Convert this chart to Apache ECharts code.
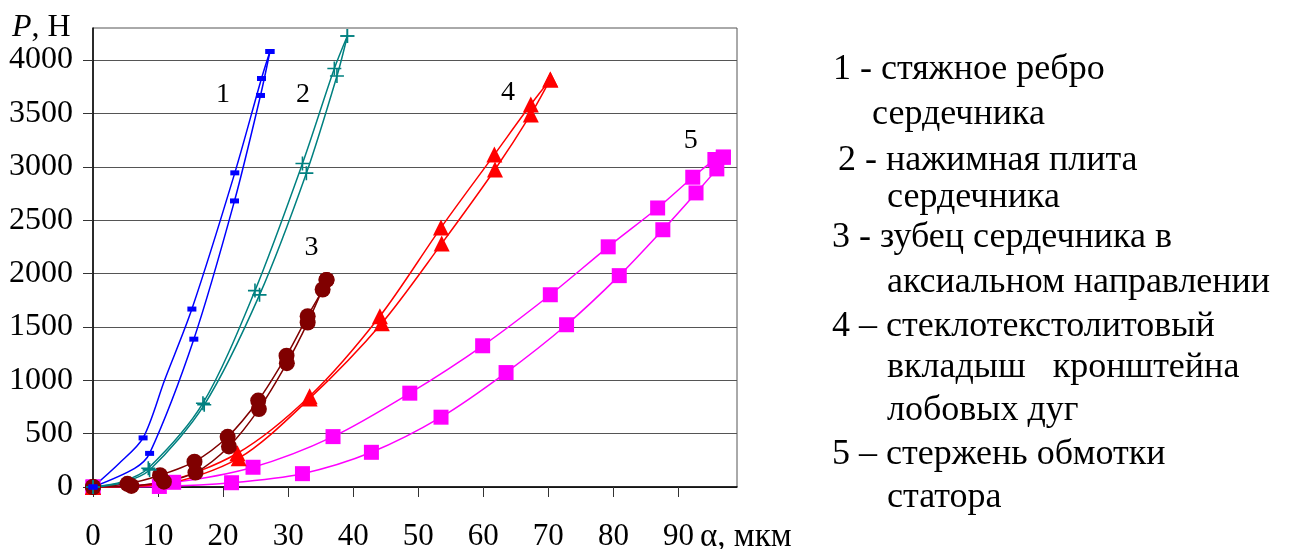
<!DOCTYPE html>
<html>
<head>
<meta charset="utf-8">
<script src="https://cdn.jsdelivr.net/npm/echarts@6/dist/echarts.min.js"></script>
<style>
  html, body { margin: 0; padding: 0; background: #fff; }
  #chart { width: 1290px; height: 549px; }
</style>
</head>
<body>
<div id="chart"></div>
<script>
// Load–deflection curves P(α) for five stator parts.
// Each point: [α, μm; P, N; 1 = marker drawn, 0 = line shape only]
const xTicks = [0, 10, 20, 30, 40, 50, 60, 70, 80, 90];
const yTicks = [0, 500, 1000, 1500, 2000, 2500, 3000, 3500, 4000];

// 1 – core clamping rib
const rib1Load = [[0,0,1],[4,220,0],[7.7,460,1],[11,1000,0],[15.2,1667,1],[21.8,2943,1],[25.9,3827,1],[27.2,4080,1]];
const rib1Unload = [[0,0,1],[6.4,175,0],[8.7,315,1],[15.5,1385,1],[21.75,2680,1],[25.75,3668,1],[27.2,4080,1]];

// 2 – core pressure plate
const plate2Load = [[0,0,1],[4.5,50,0],[8.5,175,1],[16.9,785,1],[24.9,1840,1],[32.2,3030,1],[37.1,3920,1],[39.1,4225,1]];
const plate2Unload = [[0,0,1],[4.5,40,0],[8.7,160,1],[17.1,770,1],[25.6,1800,1],[32.8,2940,1],[37.5,3850,1],[39.1,4225,1]];

// 3 – core tooth, axial direction
const tooth3Load = [[0,0,1],[5.3,30,1],[10.3,110,1],[15.6,237,1],[20.7,470,1],[25.4,810,1],[29.75,1230,1],[33,1600,1],[35.3,1850,1],[35.9,1940,1]];
const tooth3Unload = [[0,0,1],[5.9,10,1],[10.9,50,1],[15.75,135,1],[20.9,380,1],[25.5,730,1],[29.8,1160,1],[33,1540,1],[35.9,1940,1]];

// 4 – glass-textolite bracket insert
const insert4Load = [[0,0,1],[10.5,40,0],[22.2,316,1],[33.3,850,1],[44.1,1600,1],[53.5,2430,1],[61.7,3114,1],[67.3,3583,1],[70.3,3818,1]];
const insert4Unload = [[0,0,1],[10.5,25,0],[22.4,270,1],[33.3,830,1],[44.4,1535,1],[53.6,2280,1],[61.8,2974,1],[67.3,3490,1],[70.3,3818,1]];

// 5 – stator winding bar
const bar5Load = [[0,0,1],[12.4,44,1],[24.6,185,1],[36.9,472,1],[48.7,879,1],[59.9,1323,1],[70.3,1801,1],[79.2,2250,1],[86.8,2614,1],[92.2,2902,1],[95.6,3068,1],[96.9,3090,1]];
const bar5Unload = [[0,0,1],[10.2,5,1],[21.3,40,1],[32.2,125,1],[42.8,325,1],[53.5,654,1],[63.5,1072,1],[72.8,1520,1],[80.9,1980,1],[87.6,2410,1],[92.7,2755,1],[95.9,2980,1],[96.9,3090,1]];

// curve numbers placed in data coordinates
const curveLabels = [[20,3677,'1'],[32.3,3677,'2'],[33.6,2239,'3'],[63.8,3693,'4'],[91.9,3249,'5']];

const legendLines = [
  '1 - стяжное ребро',
  'сердечника',
  '2 - нажимная плита',
  'сердечника',
  '3 - зубец сердечника в',
  'аксиальном направлении',
  '4 – стеклотекстолитовый',
  'вкладыш   кронштейна',
  'лобовых дуг',
  '5 – стержень обмотки',
  'статора'
];

const FONT = 'Liberation Serif';
const PLUS = 'path://M0,5L10,5M5,0L5,10';

function pts(arr) {
  return arr.map(p => p[2] ? { value: [p[0], p[1]] } : { value: [p[0], p[1]], symbol: 'none' });
}

function curve(arr, color, symbol, size, stroke) {
  return {
    type: 'line',
    data: pts(arr),
    smooth: 0.3,
    symbol: symbol,
    symbolSize: size,
    showAllSymbol: true,
    lineStyle: { color: color, width: 1.5 },
    itemStyle: stroke
      ? { color: 'none', borderColor: color, borderWidth: 1.6 }
      : { color: color, borderWidth: 0 },
    emphasis: { disabled: true },
    animation: false,
    z: 3
  };
}

// legend rows: left edge and text baseline, px
const legendLayout = [
  [833, 77], [872, 122], [838, 168], [887, 205], [832, 245], [887, 290],
  [832, 334], [887, 375], [887, 418], [832, 462], [887, 505]
];

const chart = echarts.init(document.getElementById('chart'), null, { renderer: 'canvas' });

chart.setOption({
  backgroundColor: '#fff',
  animation: false,
  textStyle: { fontFamily: FONT },
  grid: {
    left: 93, right: 553, top: 28, bottom: 62,
    containLabel: false, outerBoundsMode: 'none',
    show: true, borderColor: '#555', borderWidth: 1, backgroundColor: '#fff'
  },
  xAxis: {
    type: 'value',
    min: 0, max: 99, interval: 10,
    axisLine: { show: true, lineStyle: { color: '#000', width: 1.5 } },
    axisTick: { show: true, inside: false, length: 10, customValues: xTicks, lineStyle: { color: '#333' } },
    axisLabel: { customValues: xTicks, margin: 34, fontFamily: FONT, fontSize: 31, color: '#000', formatter: v => String(v) },
    splitLine: { show: false }
  },
  yAxis: {
    type: 'value',
    min: 0, max: 4300, interval: 500,
    axisLine: { show: true, lineStyle: { color: '#000', width: 1.5 } },
    axisTick: { show: true, inside: false, length: 10, customValues: yTicks, lineStyle: { color: '#333' } },
    axisLabel: { customValues: yTicks, margin: 20, fontFamily: FONT, fontSize: 32, color: '#000', formatter: v => String(v) },
    splitLine: { show: true, lineStyle: { color: '#555', width: 1 } }
  },
  series: [
    curve(bar5Load, '#FF00FF', 'rect', 15),
    curve(bar5Unload, '#FF00FF', 'rect', 15),
    curve(insert4Load, '#FF0000', 'triangle', 16),
    curve(insert4Unload, '#FF0000', 'triangle', 16),
    curve(tooth3Load, '#800000', 'circle', 16),
    curve(tooth3Unload, '#800000', 'circle', 16),
    curve(plate2Load, '#008080', PLUS, 14, true),
    curve(plate2Unload, '#008080', PLUS, 14, true),
    curve(rib1Load, '#0000FF', 'rect', [9, 5]),
    curve(rib1Unload, '#0000FF', 'rect', [9, 5]),
    {
      type: 'scatter',
      data: curveLabels,
      symbolSize: 0,
      itemStyle: { opacity: 1 },
      label: {
        show: true, position: 'inside',
        formatter: p => p.value[2],
        fontFamily: FONT, fontSize: 28, color: '#000', opacity: 1
      },
      emphasis: { disabled: true },
      z: 4
    }
  ],
  graphic: [
    {
      type: 'text', left: 12, top: 12,
      style: {
        text: '{i|P}, Н',
        rich: { i: { fontStyle: 'italic', fontFamily: FONT, fontSize: 32 } },
        fontFamily: FONT, fontSize: 32, fill: '#000'
      }
    },
    {
      type: 'text', left: 700, top: 521,
      style: { text: 'α, мкм', fontFamily: FONT, fontSize: 33, fill: '#000' }
    }
  ].concat(legendLines.map((t, i) => ({
    type: 'text',
    x: legendLayout[i][0],
    y: legendLayout[i][1] - 7,
    style: { text: t, fontFamily: FONT, fontSize: 36, fill: '#000', verticalAlign: 'middle' }
  })))
});
</script>
</body>
</html>
